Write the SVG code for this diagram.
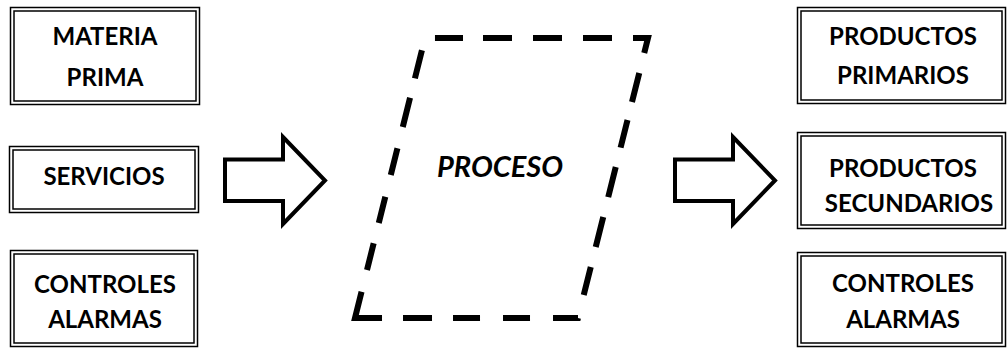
<svg xmlns="http://www.w3.org/2000/svg" width="1008" height="349" viewBox="0 0 1008 349">
  <style>
    .outer { fill: #fff; stroke: #000; stroke-width: 1.5; }
    .inner { fill: none; stroke: #000; stroke-width: 1.5; }
    .lbl { font-family: Lato, "Open Sans", sans-serif; font-weight: 700; font-size: 24px; fill: #000; text-anchor: middle; }
    .title { font-family: Lato, "Open Sans", sans-serif; font-weight: 700; font-style: italic; font-size: 29px; fill: #000; text-anchor: middle; }
    .big { fill: #fff; stroke: #000; stroke-width: 4; stroke-linejoin: miter; }
    .proc { fill: none; stroke: #000; stroke-width: 6; stroke-linejoin: miter; stroke-linecap: butt;
            stroke-dasharray: 28 20 29 21 29 21 29 21 30.5 20.5 30 18.5 28.5 20 31 20.5 31 20.5 29 23.6 25 23 27 23 27 21 29 21 54 22.5 27.5 21 27 22.5 27.5 22 30 20 29 22.6; }
  </style>
  <rect width="1008" height="349" fill="#fff"/>

  <!-- input blocks -->
  <g id="materia-prima">
    <rect class="outer" x="10.5" y="7.5" width="189" height="97"/>
    <rect class="inner" x="14" y="11" width="182" height="90"/>
    <text class="lbl" x="105" y="45">MATERIA</text>
    <text class="lbl" x="105" y="86">PRIMA</text>
  </g>
  <g id="servicios">
    <rect class="outer" x="9.5" y="146.5" width="189" height="66"/>
    <rect class="inner" x="13" y="150" width="182" height="59"/>
    <text class="lbl" x="104" y="185">SERVICIOS</text>
  </g>
  <g id="controles-entrada">
    <rect class="outer" x="10.5" y="250.5" width="187" height="96"/>
    <rect class="inner" x="14" y="254" width="180" height="89"/>
    <text class="lbl" x="105" y="293">CONTROLES</text>
    <text class="lbl" x="105" y="328">ALARMAS</text>
  </g>

  <!-- central process: dashed parallelogram, dashes wrap the top-right and bottom-left corners -->
  <g id="proceso">
    <path class="proc" d="M435 38 H648 L578 318 H355 L425 38 Z"/>
    <text class="title" x="500" y="177">PROCESO</text>
  </g>

  <!-- output blocks -->
  <g id="productos-primarios">
    <rect class="outer" x="797.5" y="7.5" width="208" height="96"/>
    <rect class="inner" x="801" y="11" width="201" height="89"/>
    <text class="lbl" x="903" y="45">PRODUCTOS</text>
    <text class="lbl" x="903" y="84">PRIMARIOS</text>
  </g>
  <g id="productos-secundarios">
    <rect class="outer" x="797.5" y="132.5" width="208" height="96"/>
    <rect class="inner" x="801" y="136" width="201" height="89"/>
    <text class="lbl" x="903" y="177">PRODUCTOS</text>
    <text class="lbl" x="909" y="212">SECUNDARIOS</text>
  </g>
  <g id="controles-salida">
    <rect class="outer" x="797.5" y="252.5" width="208" height="94"/>
    <rect class="inner" x="801" y="256" width="201" height="87"/>
    <text class="lbl" x="903" y="292">CONTROLES</text>
    <text class="lbl" x="903" y="328">ALARMAS</text>
  </g>

  <!-- block arrows -->
  <g id="connectors">
    <path class="big" d="M225 159.5 H283 V137 L325 180.5 L283 224 V201 H225 Z"/>
    <path class="big" d="M675 159.5 H733 V137 L775 180.5 L733 224 V201 H675 Z"/>
  </g>
</svg>
